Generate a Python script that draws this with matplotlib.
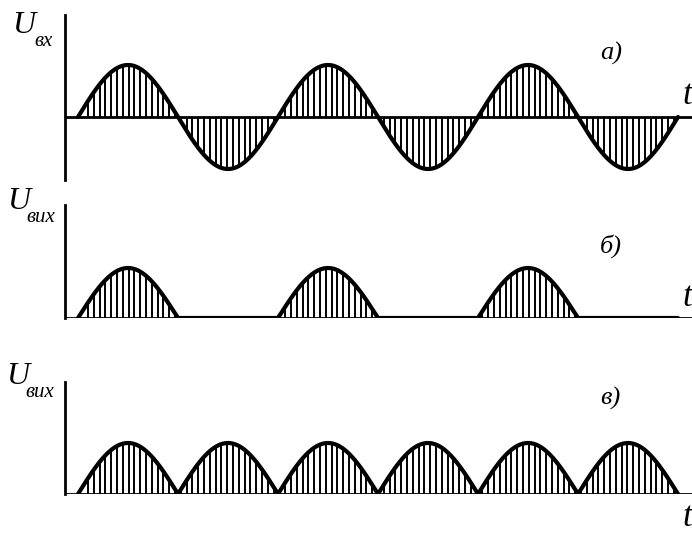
import numpy as np
import matplotlib
matplotlib.use("Agg")
import matplotlib.pyplot as plt

W, H = 692, 535
DPI = 100

# --- data (schematic signals, time in half-periods) ---
n_half_periods = 6
signal_kind = ["input", "half", "full"]          # a), б), в)
panel_letters = ["а)", "б)", "в)"]
sub_labels = ["вх", "вих", "вих"]
amplitudes = [1.0, 1.0, 1.0]
hatch_step = 0.058

# --- layout (pixels) ---
left_px, right_px = 65, 692
panels_px = [(15, 180, 117, 52), (205, 318, 318, 50), (382, 494, 494, 51)]  # top, bottom, baseline, amp
t_start = -0.13

fig = plt.figure(figsize=(W / DPI, H / DPI), dpi=DPI)
serif = ["Liberation Serif", "DejaVu Serif"]


def fx(x):
    return x / W


def fy(y):
    return 1 - y / H


t = np.linspace(0, n_half_periods, 2000)
ht = np.arange(0.1, n_half_periods, hatch_step)

for i, (kind, amp) in enumerate(zip(signal_kind, amplitudes)):
    top, bot, base, apx = panels_px[i]
    ax = fig.add_axes([fx(left_px), fy(bot), fx(right_px) - fx(left_px), fy(top) - fy(bot)])
    ymax = (base - top) / apx
    ymin = -(bot - base) / apx
    ax.set_xlim(t_start, t_start + (right_px - left_px) / 100)
    ax.set_ylim(ymin, ymax)

    def f(x):
        s = amp * np.sin(np.pi * x)
        if kind == "half":
            return np.where(s > 0, s, 0)
        if kind == "full":
            return np.abs(s)
        return s

    ax.vlines(ht, 0, f(ht), color="black", lw=1.4)
    ax.plot(t, f(t), color="black", lw=3.0, solid_capstyle="round")
    ax.axhline(0, color="black", lw=2.0)

    for s in ["top", "right", "bottom"]:
        ax.spines[s].set_visible(False)
    ax.spines["left"].set_linewidth(2.0)
    ax.set_xticks([])
    ax.set_yticks([])
    ax.patch.set_alpha(0)

u_pos = [(12, 33), (7, 209), (6, 384)]
sub_pos = [(34, 46), (26, 222), (25, 397)]
for (ux, uy), (sx, sy), sub in zip(u_pos, sub_pos, sub_labels):
    fig.text(fx(ux), fy(uy), "U", family=serif, style="italic", fontsize=23, ha="left", va="baseline")
    fig.text(fx(sx), fy(sy), sub, family=serif, style="italic", fontsize=15, ha="left", va="baseline")

for (x, y), lab in zip([(600, 60), (600, 253), (600, 405)], panel_letters):
    fig.text(fx(x), fy(y), lab, family=serif, style="italic", fontsize=19, ha="left", va="baseline")

for y in [104, 306, 526]:
    fig.text(fx(682), fy(y), "t", family=serif, style="italic", fontsize=25, ha="left", va="baseline")

fig.savefig("out.png", dpi=DPI)
